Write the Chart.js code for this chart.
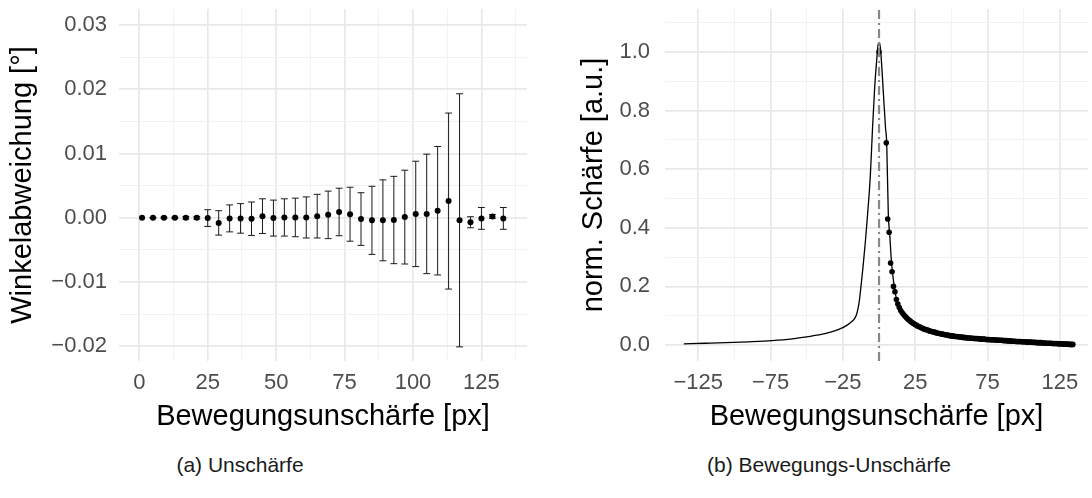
<!DOCTYPE html>
<html>
<head>
<meta charset="utf-8">
<script src="https://cdn.jsdelivr.net/npm/chart.js@4"></script>
<style>
  body { margin: 0; background: #fff; width: 1092px; height: 498px; overflow: hidden; position: relative; font-family: "Liberation Sans", Arial, sans-serif; }
  .panel { position: absolute; top: 0; width: 546px; height: 440px; }
  .caption { position: absolute; top: 453px; font-size: 21px; color: #1a1a1a; transform: translateX(-50%); white-space: nowrap; }
</style>
</head>
<body>
<div class="panel" style="left:0"><canvas id="blurChart" width="546" height="440"></canvas></div>
<div class="panel" style="left:546px"><canvas id="motionChart" width="546" height="440"></canvas></div>
<div class="caption" style="left:240px">(a) Unschärfe</div>
<div class="caption" style="left:829px">(b) Bewegungs-Unschärfe</div>
<script>
// (a) Winkelabweichung: Mittelwert und Standardabweichung je Unschärfe
var blurX = [1, 5, 9, 13, 17, 21, 25, 29, 33, 37, 41, 45, 49, 53, 57, 61, 65,
    69, 73, 77, 81, 85, 89, 93, 97, 101, 105, 109, 113, 117, 121, 125, 129, 133];
var blurMean = [0, 0, 0, 0, 0, 0, -0.00005, -0.0008, -0.0001, -0.0001, -0.00015, 0.00025,
    -0.00005, 0.00005, 0.00005, 0.00005, 0.00025, 0.00045, 0.0009, 0.00055, -0.0002,
    -0.0004, -0.0004, -0.00035, 0.0001, 0.0006, 0.0006, 0.0011, 0.0026, -0.0004,
    -0.0007, -0.0001, 0.0002, -0.0001];
var blurErr = [0, 0.00005, 0.0001, 0.0001, 0.0002, 0.0002, 0.0013, 0.0019, 0.0021, 0.0023,
    0.0026, 0.0027, 0.0028, 0.0029, 0.003, 0.0032, 0.0034, 0.0037, 0.0037, 0.0042, 0.0041,
    0.0053, 0.0063, 0.0068, 0.0073, 0.0082, 0.0093, 0.010, 0.0137, 0.0197, 0.00086,
    0.0017, 0.0003, 0.0017];
var blurXTicks = [0, 12.5, 25, 37.5, 50, 62.5, 75, 87.5, 100, 112.5, 125, 137.5];
var blurXMajor = [0, 25, 50, 75, 100, 125];
var blurYTicks = [-0.02, -0.015, -0.01, -0.005, 0, 0.005, 0.01, 0.015, 0.02, 0.025, 0.03];
var blurYMajor = [-0.02, -0.01, 0, 0.01, 0.02, 0.03];

// (b) normierte Schärfe über der Bewegungsunschärfe
var curveX = [-135, -120, -106, -90, -74, -60, -50, -40, -33, -27, -22, -19, -17, -15.5,
    -14.5, -13.5, -12.5, -11, -9.5, -8, -6, -4.5, -3, -1.5, -0.5, 0.5, 1.5, 3, 4.5, 5.3,
    6.4, 7.5, 8.5, 9.5, 10.5, 12, 14, 17, 20, 25, 30, 40, 50, 60, 75, 90, 100, 110, 120, 134];
var curveY = [0.004, 0.006, 0.008, 0.011, 0.015, 0.021, 0.028, 0.036, 0.045, 0.055, 0.068,
    0.079, 0.089, 0.105, 0.125, 0.155, 0.2, 0.27, 0.35, 0.44, 0.58, 0.74, 0.88, 0.98, 1.03,
    1.03, 0.98, 0.86, 0.74, 0.69, 0.45, 0.37, 0.29, 0.24, 0.2, 0.158, 0.13, 0.105, 0.088,
    0.07, 0.057, 0.04, 0.031, 0.025, 0.019, 0.014, 0.011, 0.008, 0.005, 0.002];
var sharpX = [0, 5, 6, 7, 8, 9, 10, 11, 12, 13, 14, 15, 16, 17, 18, 19, 20, 21, 22, 23, 24,
    25, 26, 27, 28, 29, 30, 31, 32, 33, 34, 35, 36, 37, 38, 39, 40, 41, 42, 43, 44, 45, 46,
    47, 48, 49, 50, 51, 52, 53, 54, 55, 56, 57, 58, 59, 60, 61, 62, 63, 64, 65, 66, 67, 68,
    69, 70, 71, 72, 73, 74, 75, 76, 77, 78, 79, 80, 81, 82, 83, 84, 85, 86, 87, 88, 89, 90,
    91, 92, 93, 94, 95, 96, 97, 98, 99, 100, 101, 102, 103, 104, 105, 106, 107, 108, 109,
    110, 111, 112, 113, 114, 115, 116, 117, 118, 119, 120, 121, 122, 123, 124, 125, 126,
    127, 128, 129, 130, 131, 132, 133, 134];
var sharpY = [1.0, 0.69, 0.43, 0.385, 0.28, 0.25, 0.2, 0.182, 0.155, 0.14, 0.128, 0.118,
    0.11, 0.104, 0.098, 0.093, 0.088, 0.084, 0.08, 0.076, 0.073, 0.07, 0.067, 0.064, 0.062,
    0.06, 0.057, 0.055, 0.053, 0.052, 0.05, 0.048, 0.047, 0.045, 0.044, 0.043, 0.041, 0.04,
    0.039, 0.038, 0.037, 0.036, 0.035, 0.034, 0.033, 0.032, 0.031, 0.031, 0.03, 0.029,
    0.029, 0.028, 0.027, 0.027, 0.026, 0.026, 0.025, 0.025, 0.024, 0.024, 0.023, 0.023,
    0.022, 0.022, 0.022, 0.021, 0.021, 0.02, 0.02, 0.02, 0.019, 0.019, 0.019, 0.018, 0.018,
    0.018, 0.017, 0.017, 0.017, 0.016, 0.016, 0.016, 0.015, 0.015, 0.015, 0.014, 0.014,
    0.014, 0.013, 0.013, 0.013, 0.012, 0.012, 0.012, 0.012, 0.011, 0.011, 0.011, 0.01, 0.01,
    0.01, 0.01, 0.009, 0.009, 0.009, 0.008, 0.008, 0.008, 0.008, 0.007, 0.007, 0.007, 0.006,
    0.006, 0.006, 0.006, 0.005, 0.005, 0.005, 0.005, 0.004, 0.004, 0.004, 0.004, 0.003,
    0.003, 0.003, 0.003, 0.002, 0.002, 0.002];
var peakX = 0;
var motionXTicks = [-125, -100, -75, -50, -25, 0, 25, 50, 75, 100, 125];
var motionXMajor = [-125, -75, -25, 25, 75, 125];
var motionYTicks = [0, 0.1, 0.2, 0.3, 0.4, 0.5, 0.6, 0.7, 0.8, 0.9, 1.0, 1.1];
var motionYMajor = [0, 0.2, 0.4, 0.6, 0.8, 1.0];
var motionYLimits = [-0.0546, 1.147];

var tickColor = '#4d4d4d';
Chart.defaults.font.family = "'Liberation Sans', Arial, sans-serif";

function isMajor(v, majors) {
    return majors.some(function(m) { return Math.abs(m - v) < 1e-9; });
}
function minus(s) {
    return s.replace('-', '\u2212');
}
function toPoints(xs, ys) {
    return xs.map(function(x, i) { return { x: x, y: ys[i] }; });
}

// builds an axis with ggplot-like major/minor grid
function axis(ticks, majors, fmt, pad, extra) {
    var a = {
        type: 'linear',
        afterBuildTicks: function(s) {
            s.ticks = ticks.map(function(v) { return { value: v }; });
        },
        ticks: {
            autoSkip: false, maxRotation: 0, color: tickColor, padding: pad,
            font: { size: 22 },
            callback: function(v) { return isMajor(v, majors) ? fmt(v) : ''; }
        },
        grid: {
            drawTicks: false,
            color: function(ctx) { return ctx.tick && isMajor(ctx.tick.value, majors) ? '#e8e8e8' : '#f1f1f1'; },
            lineWidth: function(ctx) { return ctx.tick && isMajor(ctx.tick.value, majors) ? 1.7 : 0.9; }
        },
        border: { display: false }
    };
    return Object.assign(a, extra);
}
function fitX(s) {
    s.height = 79;
    s.paddingLeft = 0; s.paddingRight = 0;
}
function fitY(s) {
    s.width = 119;
    s.paddingTop = 0; s.paddingBottom = 0;
}

var errorBarPlugin = {
    id: 'errorBars',
    beforeDatasetsDraw: function(chart) {
        var xs = chart.scales.x, ys = chart.scales.y, c = chart.ctx;
        c.save();
        c.strokeStyle = '#1a1a1a';
        c.lineWidth = 1;
        blurX.forEach(function(x, i) {
            if (!blurErr[i]) return;
            var px = xs.getPixelForValue(x);
            var half = xs.getPixelForValue(x + 1.25) - px;
            var lo = ys.getPixelForValue(blurMean[i] - blurErr[i]);
            var hi = ys.getPixelForValue(blurMean[i] + blurErr[i]);
            c.beginPath();
            c.moveTo(px, lo); c.lineTo(px, hi);
            c.moveTo(px - half, lo); c.lineTo(px + half, lo);
            c.moveTo(px - half, hi); c.lineTo(px + half, hi);
            c.stroke();
        });
        c.restore();
    }
};

var titleFont = { size: 29 };

document.addEventListener('DOMContentLoaded', function() {
    // Unschärfe
    new Chart(document.getElementById('blurChart'), {
        type: 'scatter',
        data: {
            datasets: [{
                data: toPoints(blurX, blurMean),
                backgroundColor: '#000',
                borderColor: '#000',
                pointRadius: 3,
                borderWidth: 0
            }]
        },
        plugins: [errorBarPlugin],
        options: {
            responsive: false,
            animation: false,
            layout: { padding: { top: 9, right: 19, left: 0, bottom: 0 } },
            plugins: { legend: { display: false }, tooltip: { enabled: false } },
            scales: {
                x: axis(blurXTicks, blurXMajor, function(v) { return String(v); }, 9, {
                    min: -7.42, max: 141.65,
                    title: { display: true, text: 'Bewegungsunschärfe [px]', color: '#000', font: titleFont, padding: { top: 0, bottom: 6 } },
                    afterFit: fitX
                }),
                y: axis(blurYTicks, blurYMajor, function(v) { return minus(v.toFixed(2)); }, 12, {
                    min: -0.0223, max: 0.0325,
                    title: { display: true, text: 'Winkelabweichung [°]', color: '#000', font: titleFont, padding: { top: 6, bottom: 0 } },
                    afterFit: fitY
                })
            }
        }
    });

    // Bewegungs-Unschärfe
    new Chart(document.getElementById('motionChart'), {
        type: 'scatter',
        data: {
            datasets: [{
                data: [{ x: peakX, y: motionYLimits[0] }, { x: peakX, y: motionYLimits[1] }],
                showLine: true,
                borderColor: '#888888',
                borderWidth: 2.2,
                borderDash: [9, 4, 2, 4],
                pointRadius: 0
            }, {
                data: toPoints(sharpX, sharpY),
                backgroundColor: '#000',
                borderColor: '#000',
                pointRadius: 2.8,
                borderWidth: 0
            }, {
                data: toPoints(curveX, curveY),
                showLine: true,
                borderColor: '#000',
                borderWidth: 1.3,
                cubicInterpolationMode: 'monotone',
                pointRadius: 0
            }]
        },
        options: {
            responsive: false,
            animation: false,
            layout: { padding: { top: 9, right: 0, left: 0, bottom: 0 } },
            plugins: { legend: { display: false }, tooltip: { enabled: false } },
            scales: {
                x: axis(motionXTicks, motionXMajor, function(v) { return minus(String(v)); }, 9, {
                    min: -148, max: 144.5,
                    title: { display: true, text: 'Bewegungsunschärfe [px]', color: '#000', font: titleFont, padding: { top: 0, bottom: 6 } },
                    afterFit: fitX
                }),
                y: axis(motionYTicks, motionYMajor, function(v) { return v.toFixed(1); }, 15, {
                    min: motionYLimits[0], max: motionYLimits[1],
                    title: { display: true, text: 'norm. Schärfe [a.u.]', color: '#000', font: titleFont, padding: { top: 31, bottom: 0 } },
                    afterFit: fitY
                })
            }
        }
    });
});
</script>
</body>
</html>
